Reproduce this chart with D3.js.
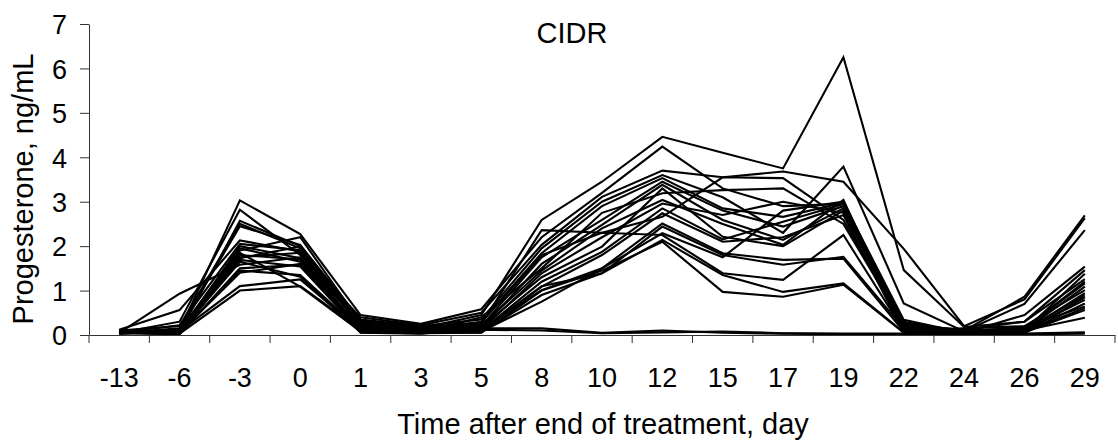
<!DOCTYPE html>
<html>
<head>
<meta charset="utf-8">
<script src="https://cdn.jsdelivr.net/npm/d3@7/dist/d3.min.js"></script>
<style>
  html, body { margin: 0; padding: 0; background: #fff; }
  svg { display: block; font-family: "Liberation Sans", Arial, sans-serif; }
</style>
</head>
<body>
<svg id="chart" width="1118" height="442"></svg>
<script>
// ---- data ----
const days = ["-13","-6","-3","0","1","3","5","8","10","12","15","17","19","22","24","26","29"];
const yTicks = [0,1,2,3,4,5,6,7];
const chartTitle = "CIDR";
const xTitle = "Time after end of treatment, day";
const yTitle = "Progesterone, ng/mL";

const cow01 = [.05,.15,2.45,2.03,.30,.15,.45,2.59,3.45,4.46,4.10,3.75,6.25,1.46,.18,.30,1.26];
const cow02 = [.08,.10,3.03,2.27,.45,.25,.58,2.20,3.20,4.24,3.30,2.90,2.95,.25,.10,.86,2.69];
const cow03 = [.05,.30,2.82,1.80,.40,.22,.50,2.03,3.11,3.70,3.55,3.68,3.45,1.94,.20,.80,2.63];
const cow04 = [.10,.05,2.57,2.00,.35,.20,.35,1.95,3.00,3.60,3.10,2.30,3.79,.71,.08,.70,2.36];
const cow05 = [.05,.93,1.58,1.75,.25,.12,.30,1.84,2.90,3.53,2.85,2.66,2.98,.34,.05,.45,1.54];
const cow06 = [.12,.56,2.13,1.88,.20,.10,.25,2.36,2.30,2.66,3.55,3.53,2.59,.20,.12,.30,1.46];
const cow07 = [.05,.22,2.05,1.91,.18,.08,.20,1.75,2.59,3.45,2.80,2.44,2.90,.30,.05,.10,1.38];
const cow08 = [.08,.05,2.00,1.73,.15,.10,.15,1.60,2.48,3.38,2.59,2.14,2.85,.15,.10,.15,1.16];
const cow09 = [.03,.10,1.95,1.65,.12,.06,.40,1.50,2.75,3.19,3.26,3.30,2.50,.22,.05,.10,1.09];
const cow10 = [.10,.08,1.90,2.20,.28,.18,.22,1.45,2.40,3.04,2.50,2.03,3.04,.10,.15,.20,1.01];
const cow11 = [.06,.04,1.80,1.70,.10,.05,.12,1.39,2.20,2.96,2.70,3.00,2.75,.28,.05,.08,.94];
const cow12 = [.04,.12,1.73,1.99,.22,.14,.18,1.30,1.99,3.30,2.21,2.00,2.80,.12,.10,.12,.89];
const cow13 = [.09,.06,1.69,1.54,.08,.04,.10,1.20,1.87,2.85,2.15,2.55,2.95,.18,.06,.10,.79];
const cow14 = [.05,.02,1.50,1.58,.14,.08,.08,1.09,1.80,2.74,2.10,2.20,2.70,.05,.12,.05,.71];
const cow15 = [.07,.05,1.40,1.60,.16,.12,.14,1.01,1.50,2.51,1.84,1.69,1.72,.08,.08,.18,.64];
const cow16 = [.03,.08,1.10,1.25,.10,.06,.06,.90,1.39,2.44,1.80,1.58,1.76,.15,.04,.06,.56];
const cow17 = [.06,.03,1.00,1.10,.12,.05,.08,.75,1.50,2.29,1.75,2.80,3.00,.26,.10,.10,.39];
const cow18 = [.10,.20,2.50,1.95,.32,.18,.28,1.80,2.30,2.25,1.39,1.24,2.25,.10,.08,.15,1.20];
const cow19 = [.05,.04,1.45,1.35,.10,.07,.10,1.10,1.39,2.14,1.35,.97,1.16,.06,.05,.05,.85];
const cow20 = [.08,.06,1.65,1.31,.06,.04,.05,1.00,1.45,2.10,.97,.86,1.13,.05,.10,.08,.60];
const cow21 = [.05,.02,1.75,1.85,.05,.03,.15,.15,.05,.10,.05,.03,.02,.02,.05,.03,.06];
const cow22 = [.04,.03,1.85,1.09,.08,.05,.12,.10,.04,.06,.08,.04,.03,.03,.02,.02,.03];

const series = [cow01,cow02,cow03,cow04,cow05,cow06,cow07,cow08,cow09,cow10,cow11,
                cow12,cow13,cow14,cow15,cow16,cow17,cow18,cow19,cow20,cow21,cow22];

// ---- layout ----
const svg = d3.select("#chart");
const mLeft = 89, mRight = 1115, mTop = 24, mBottom = 335;

const x = d3.scaleBand().domain(days).range([mLeft, mRight]).padding(0);
const y = d3.scaleLinear().domain([0, 7]).range([mBottom, mTop]);
const cx = d => x(d) + x.bandwidth() / 2;

// lines
const line = d3.line()
  .x((v, i) => cx(days[i]))
  .y(v => y(v));

svg.append("g")
  .selectAll("path")
  .data(series)
  .join("path")
  .attr("d", line)
  .attr("fill", "none")
  .attr("stroke", "#000")
  .attr("stroke-width", 2.1)
  .attr("stroke-linejoin", "miter");

// y axis
const yAxis = svg.append("g")
  .attr("transform", `translate(${mLeft},0)`)
  .call(d3.axisLeft(y).tickValues(yTicks).tickFormat(d3.format("d")).tickSize(9).tickPadding(13).tickSizeOuter(0));
yAxis.select(".domain").attr("stroke", "#333");
yAxis.selectAll(".tick line").attr("stroke", "#333");
yAxis.selectAll("text")
  .attr("font-size", 27)
  .attr("font-family", "Liberation Sans, Arial, sans-serif")
  .attr("fill", "#000")
  .attr("dy", "0.36em");

// x axis (labels at category centres, ticks at category boundaries)
const xAxis = svg.append("g")
  .attr("transform", `translate(0,${mBottom})`)
  .call(d3.axisBottom(x).tickSize(0).tickSizeOuter(0));
xAxis.select(".domain").attr("stroke", "#333");
xAxis.selectAll("text")
  .attr("font-size", 27)
  .attr("font-family", "Liberation Sans, Arial, sans-serif")
  .attr("fill", "#000")
  .attr("dy", null)
  .attr("y", 52);

const boundaries = days.map(d => x(d)).concat([x.range()[1]]);
xAxis.append("g")
  .selectAll("line")
  .data(boundaries)
  .join("line")
  .attr("x1", d => d).attr("x2", d => d)
  .attr("y1", 0).attr("y2", 8)
  .attr("stroke", "#333")
  .attr("stroke-width", 1);

// titles
svg.append("text")
  .attr("x", 572).attr("y", 43)
  .attr("text-anchor", "middle")
  .attr("font-size", 29)
  .text(chartTitle);

svg.append("text")
  .attr("x", 603).attr("y", 434)
  .attr("text-anchor", "middle")
  .attr("font-size", 29)
  .text(xTitle);

svg.append("text")
  .attr("transform", "rotate(-90)")
  .attr("x", -189).attr("y", 33)
  .attr("text-anchor", "middle")
  .attr("font-size", 29)
  .text(yTitle);
</script>
</body>
</html>
